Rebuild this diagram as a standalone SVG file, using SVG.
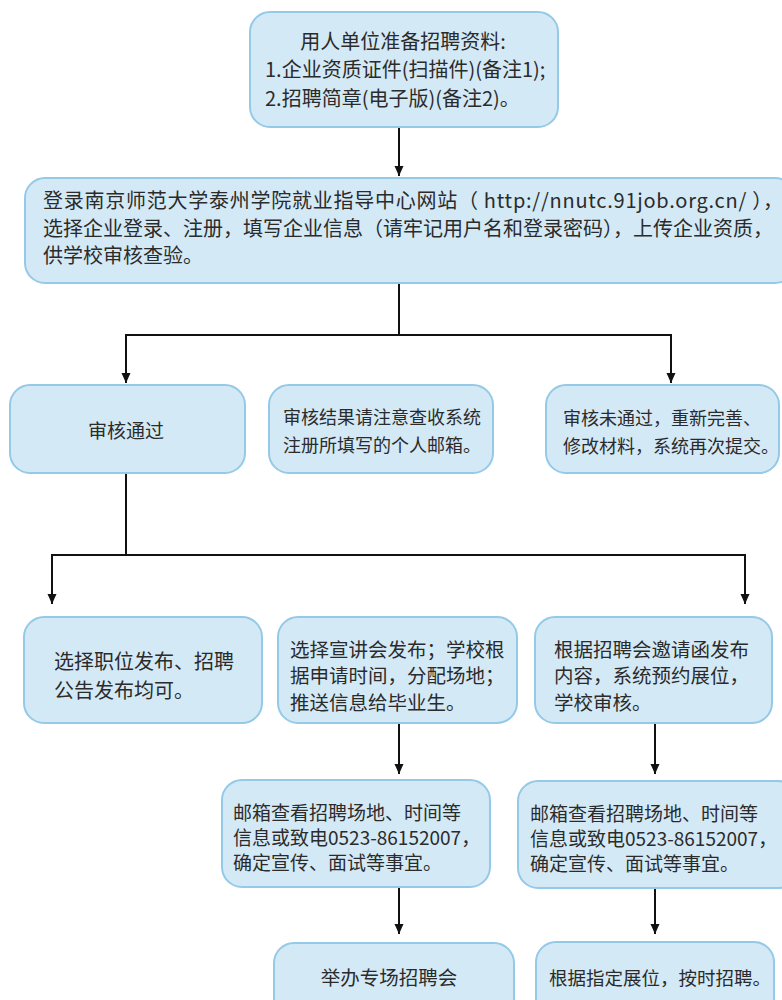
<svg xmlns="http://www.w3.org/2000/svg" width="782" height="1000" viewBox="0 0 782 1000">
<defs>
<marker id="arr" markerUnits="userSpaceOnUse" markerWidth="10" markerHeight="10" refX="10" refY="4.5" orient="auto">
<path d="M0,0 L10,4.5 L0,9 z" fill="#111"/>
</marker>
<style>
.box{fill:#d4e9f6;stroke:#94c9e7;stroke-width:2}
.t{font-family:"Noto Sans CJK SC","Noto Sans",sans-serif;fill:#2b2b2b;dominant-baseline:central}
.conn line,.conn polyline{stroke:#111;stroke-width:2;fill:none}
</style>
</defs>
<rect width="782" height="1000" fill="#ffffff"/>

<g class="conn">
<line x1="399" y1="127" x2="399" y2="176" marker-end="url(#arr)"/>
<line x1="399" y1="283" x2="399" y2="335"/>
<polyline points="126,383 126,335 671,335 671,383"/>
<line x1="126" y1="336" x2="126" y2="383" marker-end="url(#arr)"/>
<line x1="671" y1="336" x2="671" y2="383" marker-end="url(#arr)"/>
<line x1="126" y1="473" x2="126" y2="555"/>
<polyline points="52,603 52,555 745,555 745,603"/>
<line x1="52" y1="556" x2="52" y2="604" marker-end="url(#arr)"/>
<line x1="745" y1="556" x2="745" y2="604" marker-end="url(#arr)"/>
<line x1="399" y1="723" x2="399" y2="774" marker-end="url(#arr)"/>
<line x1="655" y1="723" x2="655" y2="774" marker-end="url(#arr)"/>
<line x1="399" y1="887" x2="399" y2="934" marker-end="url(#arr)"/>
<line x1="655" y1="888" x2="655" y2="934" marker-end="url(#arr)"/>
</g>

<g id="n1">
<rect class="box" x="250" y="12" width="308" height="115" rx="20"/>
<text class="t" font-size="20" x="403" y="40" text-anchor="middle">用人单位准备招聘资料:</text>
<text class="t" font-size="20" x="265" y="68">1.企业资质证件(扫描件)(备注1);</text>
<text class="t" font-size="20" x="265" y="97">2.招聘简章(电子版)(备注2)。</text>
</g>

<g id="n2">
<rect class="box" x="25" y="178" width="770" height="105" rx="20"/>
<text class="t" font-size="20" x="43" y="199.5" textLength="740" lengthAdjust="spacing">登录南京师范大学泰州学院就业指导中心网站（ http://nnutc.91job.org.cn/ ），</text>
<text class="t" font-size="20" x="43" y="227">选择企业登录、注册，填写企业信息（请牢记用户名和登录密码），上传企业资质，</text>
<text class="t" font-size="20" x="43" y="254.5">供学校审核查验。</text>
</g>

<g id="n3">
<rect class="box" x="10" y="385" width="235" height="88" rx="20"/>
<text class="t" font-size="19" x="126" y="429" text-anchor="middle">审核通过</text>
</g>

<g id="n4">
<rect class="box" x="269" y="385" width="224" height="88" rx="20"/>
<text class="t" font-size="18" x="283" y="416">审核结果请注意查收系统</text>
<text class="t" font-size="18" x="283" y="444">注册所填写的个人邮箱。</text>
</g>

<g id="n5">
<rect class="box" x="546" y="385" width="233" height="88" rx="20"/>
<text class="t" font-size="18" x="563" y="417">审核未通过，重新完善、</text>
<text class="t" font-size="18" x="563" y="445">修改材料，系统再次提交。</text>
</g>

<g id="n6">
<rect class="box" x="24" y="617" width="238" height="106" rx="20"/>
<text class="t" font-size="20" x="54" y="660">选择职位发布、招聘</text>
<text class="t" font-size="20" x="54" y="689">公告发布均可。</text>
</g>

<g id="n7">
<rect class="box" x="278" y="617" width="239" height="106" rx="20"/>
<text class="t" font-size="19.5" x="290" y="648">选择宣讲会发布；学校根</text>
<text class="t" font-size="19.5" x="290" y="674.5">据申请时间，分配场地；</text>
<text class="t" font-size="19.5" x="290" y="701">推送信息给毕业生。</text>
</g>

<g id="n8">
<rect class="box" x="535" y="617" width="237" height="106" rx="20"/>
<text class="t" font-size="19.5" x="554" y="648">根据招聘会邀请函发布</text>
<text class="t" font-size="19.5" x="554" y="674.5">内容，系统预约展位，</text>
<text class="t" font-size="19.5" x="554" y="701">学校审核。</text>
</g>

<g id="n9">
<rect class="box" x="222" y="780" width="268" height="107" rx="20"/>
<text class="t" font-size="19" x="233" y="811.5">邮箱查看招聘场地、时间等</text>
<text class="t" font-size="19" x="233" y="836.5">信息或致电0523-86152007，</text>
<text class="t" font-size="19" x="233" y="861.5">确定宣传、面试等事宜。</text>
</g>

<g id="n10">
<rect class="box" x="518" y="781" width="280" height="107" rx="20"/>
<text class="t" font-size="19" x="530" y="812">邮箱查看招聘场地、时间等</text>
<text class="t" font-size="19" x="530" y="837">信息或致电0523-86152007，</text>
<text class="t" font-size="19" x="530" y="862">确定宣传、面试等事宜。</text>
</g>

<g id="n11">
<rect class="box" x="274" y="943" width="240" height="80" rx="20"/>
<text class="t" font-size="19.5" x="389" y="976" text-anchor="middle">举办专场招聘会</text>
</g>

<g id="n12">
<rect class="box" x="536" y="942" width="238" height="80" rx="20"/>
<text class="t" font-size="18.5" x="549" y="977">根据指定展位，按时招聘。</text>
</g>
</svg>
